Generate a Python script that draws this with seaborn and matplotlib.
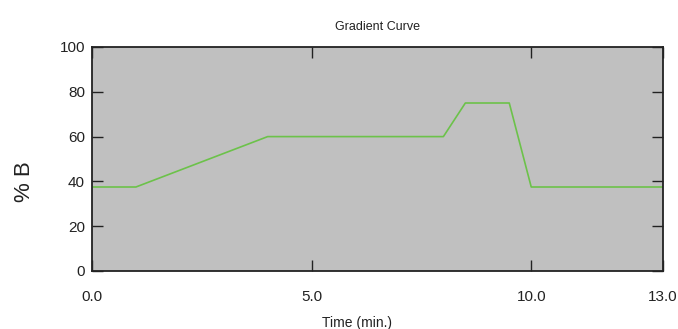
import matplotlib
matplotlib.use("Agg")
import matplotlib.pyplot as plt
import seaborn as sns
import pandas as pd

time_min = [0.0, 1.0, 4.0, 8.0, 8.5, 9.5, 10.0, 13.0]
percent_b = [37.5, 37.5, 60.0, 60.0, 75.0, 75.0, 37.5, 37.5]
x_ticks = [0.0, 5.0, 10.0, 13.0]
x_tick_labels = ["0.0", "5.0", "10.0", "13.0"]
y_ticks = [0, 20, 40, 60, 80, 100]

sns.set_style("ticks")
plt.rcParams['font.family'] = ['Liberation Sans', 'DejaVu Sans']

df = pd.DataFrame({"Time": time_min, "B": percent_b})

fig = plt.figure(figsize=(6.78, 3.29), dpi=100)
ax = fig.add_axes([92/678, 1-271/329, (663-92)/678, (271-47)/329])
ax.set_facecolor("#c0c0c0")
sns.lineplot(data=df, x="Time", y="B", ax=ax, color="#6cc24a", linewidth=1.2, sort=False)

ax.set_xlim(0, 13)
ax.set_ylim(0, 100)
ax.set_xticks(x_ticks)
ax.set_xticklabels(x_tick_labels)
ax.set_yticks(y_ticks)
ax.tick_params(axis="both", direction="in", length=8, width=1, colors="#222222",
               labelcolor="#222222", labelsize=11, top=True, right=True)
ax.tick_params(axis="x", pad=14)
ax.tick_params(axis="y", pad=5)
for s in ax.spines.values():
    s.set_linewidth(1.3)
    s.set_color("#222222")

ax.set_title("Gradient Curve", fontsize=9, pad=12, color="#222222")
ax.set_xlabel("Time (min.)", fontsize=10, color="#222222")
ax.xaxis.set_label_coords((357-92)/571, -0.2)
ax.set_ylabel("% B", fontsize=16, color="#222222")
ax.yaxis.set_label_coords(-0.1, 0.4)

fig.savefig("out.png", dpi=100)
